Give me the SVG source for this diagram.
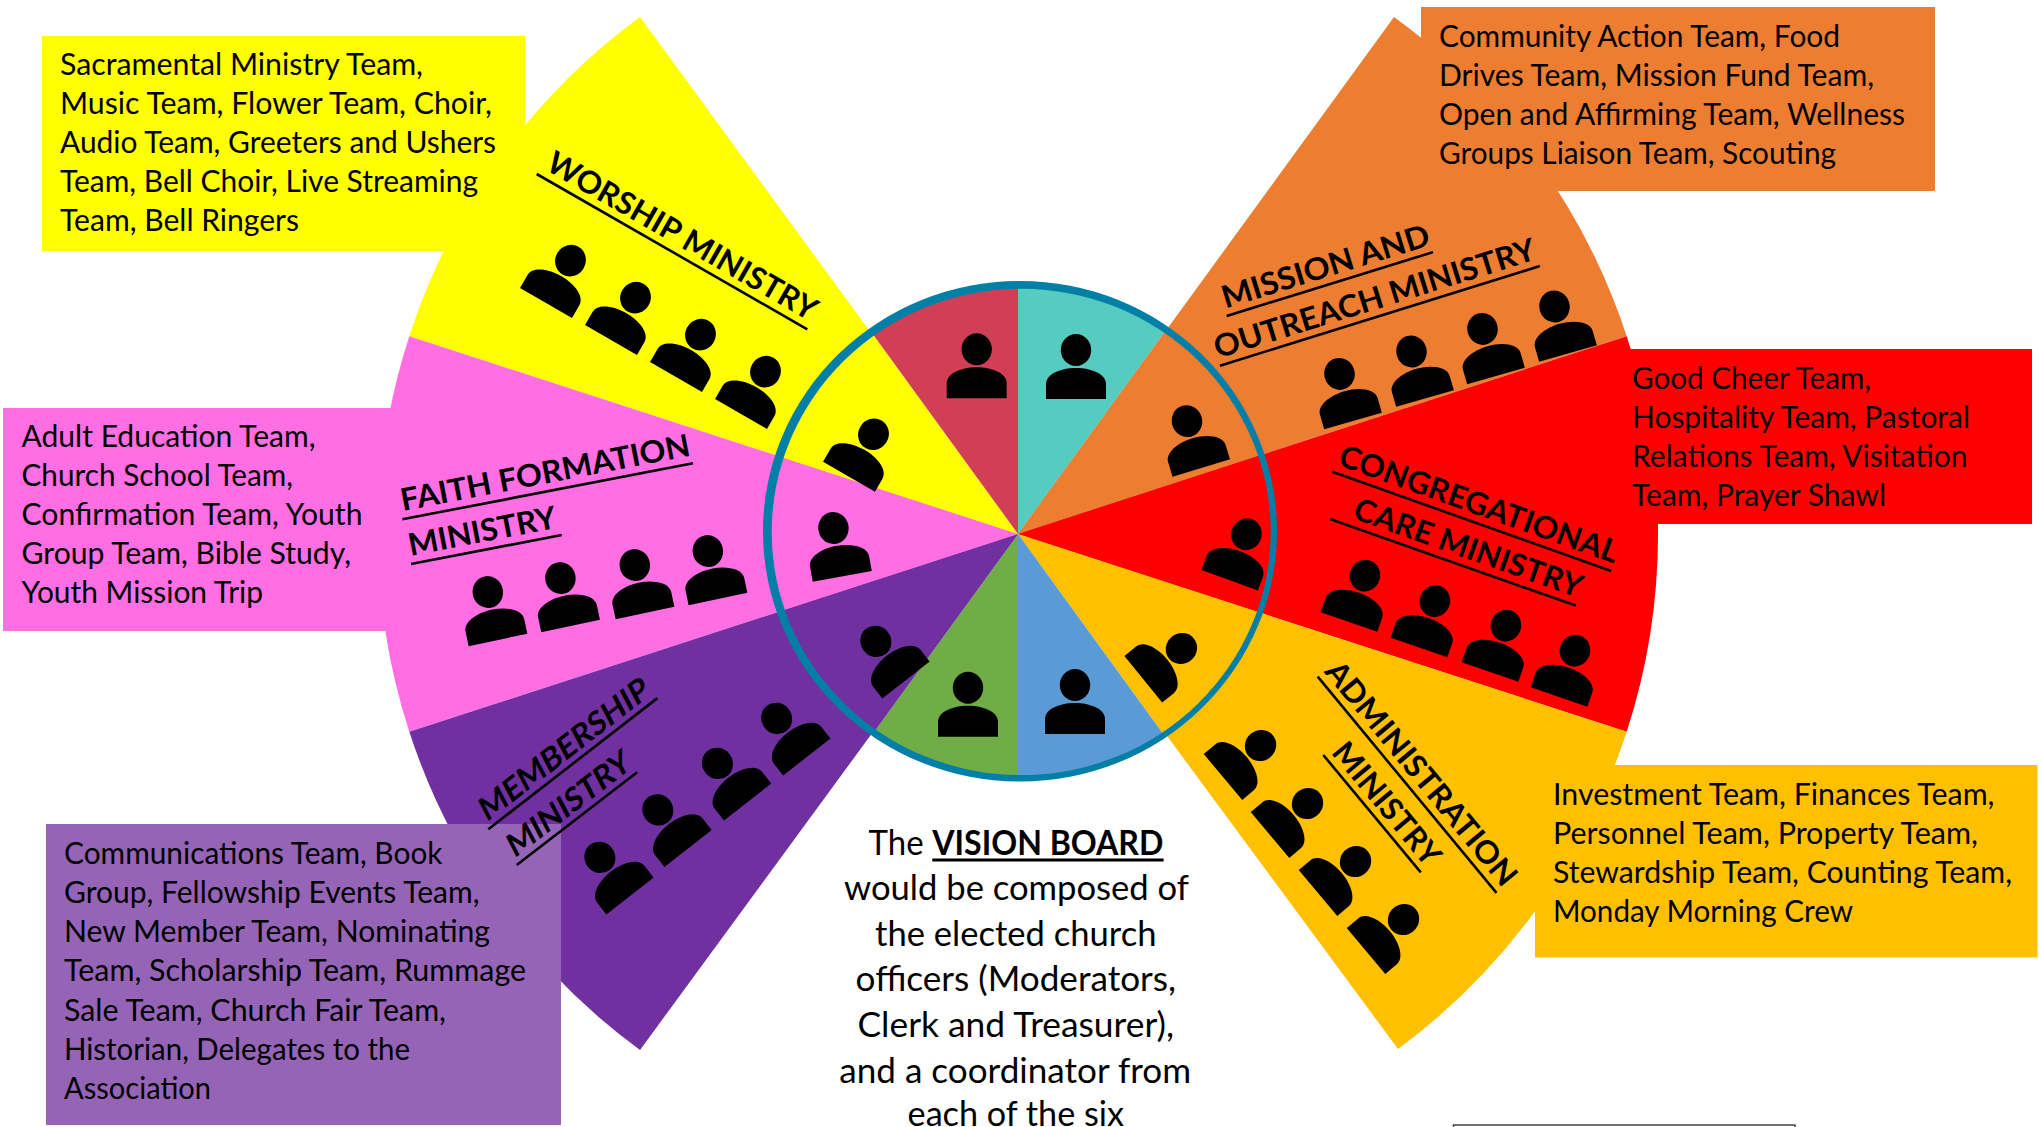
<svg xmlns="http://www.w3.org/2000/svg" width="2039" height="1127" viewBox="0 0 2039 1127">
<style>
text{font-family:"Lato","Carlito","Liberation Sans",sans-serif;fill:#000}
.b{font-size:30px}
.l{font-size:31px;font-weight:700}
.c{font-size:35px}
.u{stroke:#000;stroke-width:2.6;fill:none}
</style>
<defs>
<g id="person"><ellipse cx="0" cy="-49" rx="15.2" ry="16"/><path d="M-30 0V-15C-30-25-15-31 0-31S30-25 30-15V0Z"/></g>
<clipPath id="hub"><ellipse cx="1021" cy="532" rx="250.5" ry="244"/></clipPath>
</defs>
<rect width="2039" height="1127" fill="#fff"/>

<g id="worship-ministry">
<path d="M1018 534L409.3 336.2A640 640 0 0 1 640 17Z" fill="#FFFF00"/>
<rect x="42" y="36" width="483" height="215" fill="#FFFF00"/>
<text class="b" x="60" y="75" textLength="363" lengthAdjust="spacingAndGlyphs">Sacramental Ministry Team,</text>
<text class="b" x="60" y="114" textLength="432" lengthAdjust="spacingAndGlyphs">Music Team, Flower Team, Choir,</text>
<text class="b" x="60" y="153" textLength="436" lengthAdjust="spacingAndGlyphs">Audio Team, Greeters and Ushers</text>
<text class="b" x="60" y="192" textLength="418" lengthAdjust="spacingAndGlyphs">Team, Bell Choir, Live Streaming</text>
<text class="b" x="60" y="231" textLength="239" lengthAdjust="spacingAndGlyphs">Team, Bell Ringers</text>
<g transform="translate(536.7 174) rotate(29.85)">
<text class="l" x="4" y="-8" textLength="306" lengthAdjust="spacingAndGlyphs">WORSHIP MINISTRY</text>
<line class="u" x1="0" y1="0" x2="312" y2="0"/>
</g>
</g>

<g id="faith-formation-ministry">
<path d="M1018 534L409.3 731.8A640 640 0 0 1 409.3 336.2Z" fill="#FF6EE3"/>
<rect x="3" y="408" width="392" height="223" fill="#FF6EE3"/>
<text class="b" x="21.5" y="447" textLength="294" lengthAdjust="spacingAndGlyphs">Adult Education Team,</text>
<text class="b" x="21.5" y="486" textLength="271.5" lengthAdjust="spacingAndGlyphs">Church School Team,</text>
<text class="b" x="21.5" y="525" textLength="341" lengthAdjust="spacingAndGlyphs">Confirmation Team, Youth</text>
<text class="b" x="21.5" y="564" textLength="329.5" lengthAdjust="spacingAndGlyphs">Group Team, Bible Study,</text>
<text class="b" x="21.5" y="603" textLength="241.5" lengthAdjust="spacingAndGlyphs">Youth Mission Trip</text>
<g transform="translate(402.3 519.3) rotate(-10.9)">
<text class="l" x="2" y="-8" textLength="294" lengthAdjust="spacingAndGlyphs">FAITH FORMATION</text>
<line class="u" x1="0" y1="0" x2="296" y2="0"/>
</g>
<g transform="translate(411 564) rotate(-10.9)">
<text class="l" x="1" y="-8" textLength="150" lengthAdjust="spacingAndGlyphs">MINISTRY</text>
<line class="u" x1="0" y1="0" x2="153.5" y2="0"/>
</g>
</g>

<g id="membership-ministry">
<path d="M1018 534L640 1050A640 640 0 0 1 409.3 731.8Z" fill="#7030A0"/>
<rect x="46" y="824" width="515" height="301" fill="#9564B6"/>
<text class="b" x="64" y="864" textLength="378.5" lengthAdjust="spacingAndGlyphs">Communications Team, Book</text>
<text class="b" x="64" y="903" textLength="415.5" lengthAdjust="spacingAndGlyphs">Group, Fellowship Events Team,</text>
<text class="b" x="64" y="942" textLength="426" lengthAdjust="spacingAndGlyphs">New Member Team, Nominating</text>
<text class="b" x="64" y="981" textLength="462" lengthAdjust="spacingAndGlyphs">Team, Scholarship Team, Rummage</text>
<text class="b" x="64" y="1020.5" textLength="382" lengthAdjust="spacingAndGlyphs">Sale Team, Church Fair Team,</text>
<text class="b" x="64" y="1059.5" textLength="346" lengthAdjust="spacingAndGlyphs">Historian, Delegates to the</text>
<text class="b" x="64" y="1098.5" textLength="147" lengthAdjust="spacingAndGlyphs">Association</text>
<g transform="translate(488.3 829.3) rotate(-37.8)">
<text class="l" x="2" y="-6.5" textLength="208" lengthAdjust="spacingAndGlyphs" transform="skewX(-10)">MEMBERSHIP</text>
<line class="u" x1="0" y1="0" x2="214" y2="0"/>
</g>
<g transform="translate(516.7 865) rotate(-37.6)">
<text class="l" x="1" y="-6.5" textLength="149" lengthAdjust="spacingAndGlyphs" transform="skewX(-10)">MINISTRY</text>
<line class="u" x1="0" y1="0" x2="152" y2="0"/>
</g>
</g>

<g id="mission-outreach-ministry">
<path d="M1018 534L1394 17A640 640 0 0 1 1626.7 336.2Z" fill="#ED7D31"/>
<rect x="1421" y="7" width="514" height="184" fill="#ED7D31"/>
<text class="b" x="1439" y="46.5" textLength="401" lengthAdjust="spacingAndGlyphs">Community Action Team, Food</text>
<text class="b" x="1439" y="85.5" textLength="435" lengthAdjust="spacingAndGlyphs">Drives Team, Mission Fund Team,</text>
<text class="b" x="1439" y="124.5" textLength="466" lengthAdjust="spacingAndGlyphs">Open and Affirming Team, Wellness</text>
<text class="b" x="1439" y="163.5" textLength="397" lengthAdjust="spacingAndGlyphs">Groups Liaison Team, Scouting</text>
<g transform="translate(1226.7 316) rotate(-17.2)">
<text class="l" x="1" y="-7.5" textLength="216" lengthAdjust="spacingAndGlyphs">MISSION AND</text>
<line class="u" x1="0" y1="0" x2="216" y2="0"/>
</g>
<g transform="translate(1220 365.7) rotate(-17.3)">
<text class="l" x="0" y="-7.5" textLength="335" lengthAdjust="spacingAndGlyphs">OUTREACH MINISTRY</text>
<line class="u" x1="0" y1="0" x2="335" y2="0"/>
</g>
</g>

<g id="congregational-care-ministry">
<path d="M1018 534L1626.7 336.2A640 640 0 0 1 1626.7 731.8Z" fill="#FF0000"/>
<rect x="1629" y="349" width="403" height="175" fill="#FF0000"/>
<text class="b" x="1632" y="388.5" textLength="239" lengthAdjust="spacingAndGlyphs">Good Cheer Team,</text>
<text class="b" x="1632" y="427.5" textLength="338" lengthAdjust="spacingAndGlyphs">Hospitality Team, Pastoral</text>
<text class="b" x="1632" y="467" textLength="335.5" lengthAdjust="spacingAndGlyphs">Relations Team, Visitation</text>
<text class="b" x="1632" y="506" textLength="254" lengthAdjust="spacingAndGlyphs">Team, Prayer Shawl</text>
<g transform="translate(1332.3 471.7) rotate(19.6)">
<text class="l" x="2" y="-8" textLength="294" lengthAdjust="spacingAndGlyphs">CONGREGATIONAL</text>
<line class="u" x1="0" y1="0" x2="296" y2="0"/>
</g>
<g transform="translate(1330 519) rotate(19.4)">
<text class="l" x="20" y="-8" textLength="240" lengthAdjust="spacingAndGlyphs">CARE MINISTRY</text>
<line class="u" x1="0" y1="0" x2="260.7" y2="0"/>
</g>
</g>

<g id="administration-ministry">
<path d="M1018 534L1626.7 731.8A640 640 0 0 1 1398 1049Z" fill="#FFC000"/>
<rect x="1535" y="765" width="502.5" height="192.5" fill="#FFC000"/>
<text class="b" x="1553" y="804.5" textLength="441.5" lengthAdjust="spacingAndGlyphs">Investment Team, Finances Team,</text>
<text class="b" x="1553" y="843.5" textLength="425" lengthAdjust="spacingAndGlyphs">Personnel Team, Property Team,</text>
<text class="b" x="1553" y="882.5" textLength="459" lengthAdjust="spacingAndGlyphs">Stewardship Team, Counting Team,</text>
<text class="b" x="1553" y="921.5" textLength="300" lengthAdjust="spacingAndGlyphs">Monday Morning Crew</text>
<g transform="translate(1317.7 676.7) rotate(50.4)">
<text class="l" x="0" y="-7.5" textLength="281" lengthAdjust="spacingAndGlyphs">ADMINISTRATION</text>
<line class="u" x1="0" y1="0" x2="280.5" y2="0"/>
</g>
<g transform="translate(1323.3 755) rotate(50.3)">
<text class="l" x="3" y="-7" textLength="150" lengthAdjust="spacingAndGlyphs">MINISTRY</text>
<line class="u" x1="0" y1="0" x2="152.6" y2="0"/>
</g>
</g>

<g id="vision-board-hub">
<g clip-path="url(#hub)">
<path d="M1018 534L1018 234L1194.3 291.3Z" fill="#56CBC0"/>
<path d="M1018 534L1194.3 291.3L1303.3 441.3Z" fill="#ED7D31"/>
<path d="M1018 534L1303.3 441.3L1303.3 626.7Z" fill="#FF0000"/>
<path d="M1018 534L1303.3 626.7L1194.3 776.7Z" fill="#FFC000"/>
<path d="M1018 534L1194.3 776.7L1018 834Z" fill="#5B9BD5"/>
<path d="M1018 534L1018 834L841.7 776.7Z" fill="#70AD47"/>
<path d="M1018 534L841.7 776.7L732.7 626.7Z" fill="#7030A0"/>
<path d="M1018 534L732.7 626.7L732.7 441.3Z" fill="#FF6EE3"/>
<path d="M1018 534L732.7 441.3L841.7 291.3Z" fill="#FFFF00"/>
<path d="M1018 534L841.7 291.3L1018 234Z" fill="#D13F56"/>
</g>
<path d="M763 531.3a257 250.3 0 1 0 514 0a257 250.3 0 1 0-514 0ZM771.7 532a249.5 243 0 1 1 499 0a249.5 243 0 1 1-499 0Z" fill="#027FA6" fill-rule="evenodd"/>
</g>

<g id="people">
<use href="#person" transform="translate(976.7 398.3)"/>
<use href="#person" transform="translate(1076 399)"/>
<use href="#person" transform="translate(1201.3 468) rotate(-17)"/>
<use href="#person" transform="translate(1229.7 580.3) rotate(20)"/>
<use href="#person" transform="translate(1143.3 679.3) rotate(51)"/>
<use href="#person" transform="translate(1075 734)"/>
<use href="#person" transform="translate(968 736.7)"/>
<use href="#person" transform="translate(906 680) rotate(-38)"/>
<use href="#person" transform="translate(842.3 576.3) rotate(-10.4)"/>
<use href="#person" transform="translate(849 476.7) rotate(30)"/>
<use href="#person" transform="translate(546 303) rotate(30)"/>
<use href="#person" transform="translate(611 340) rotate(30)"/>
<use href="#person" transform="translate(676 377) rotate(30)"/>
<use href="#person" transform="translate(741 414) rotate(30)"/>
<use href="#person" transform="translate(498 640) rotate(-12)"/>
<use href="#person" transform="translate(570.6 626) rotate(-12)"/>
<use href="#person" transform="translate(645 613) rotate(-12)"/>
<use href="#person" transform="translate(718 599) rotate(-12)"/>
<use href="#person" transform="translate(630 896) rotate(-38)"/>
<use href="#person" transform="translate(688 848.5) rotate(-38)"/>
<use href="#person" transform="translate(747.6 802) rotate(-38)"/>
<use href="#person" transform="translate(806.8 757) rotate(-38)"/>
<use href="#person" transform="translate(1353 421) rotate(-16)"/>
<use href="#person" transform="translate(1425 398.6) rotate(-16)"/>
<use href="#person" transform="translate(1496 376) rotate(-16)"/>
<use href="#person" transform="translate(1568 353.6) rotate(-16)"/>
<use href="#person" transform="translate(1349 622) rotate(19)"/>
<use href="#person" transform="translate(1419 647.5) rotate(19)"/>
<use href="#person" transform="translate(1490 672) rotate(19)"/>
<use href="#person" transform="translate(1559 697) rotate(19)"/>
<use href="#person" transform="translate(1223 777) rotate(50)"/>
<use href="#person" transform="translate(1270 835) rotate(50)"/>
<use href="#person" transform="translate(1318 893) rotate(50)"/>
<use href="#person" transform="translate(1366 951) rotate(50)"/>
</g>

<g id="vision-board-text">
<text class="c" x="868.6" y="854.5" textLength="55" lengthAdjust="spacingAndGlyphs">The</text>
<text class="c" x="932.3" y="854.5" textLength="231" lengthAdjust="spacingAndGlyphs" style="font-weight:700">VISION BOARD</text>
<line x1="932.3" y1="860" x2="1163.6" y2="860" stroke="#000" stroke-width="3"/>
<text class="c" x="844" y="900" textLength="345" lengthAdjust="spacingAndGlyphs">would be composed of</text>
<text class="c" x="875" y="945.5" textLength="281.5" lengthAdjust="spacingAndGlyphs">the elected church</text>
<text class="c" x="855.6" y="991" textLength="320.4" lengthAdjust="spacingAndGlyphs">officers (Moderators,</text>
<text class="c" x="857.5" y="1037" textLength="316.5" lengthAdjust="spacingAndGlyphs">Clerk and Treasurer),</text>
<text class="c" x="839.3" y="1083" textLength="351.7" lengthAdjust="spacingAndGlyphs">and a coordinator from</text>
<text class="c" x="907.6" y="1126" textLength="216.4" lengthAdjust="spacingAndGlyphs">each of the six</text>
</g>

<rect id="cut-off-box" x="1453.5" y="1125" width="341.5" height="20" fill="#fff" stroke="#444" stroke-width="1.5"/>
</svg>
